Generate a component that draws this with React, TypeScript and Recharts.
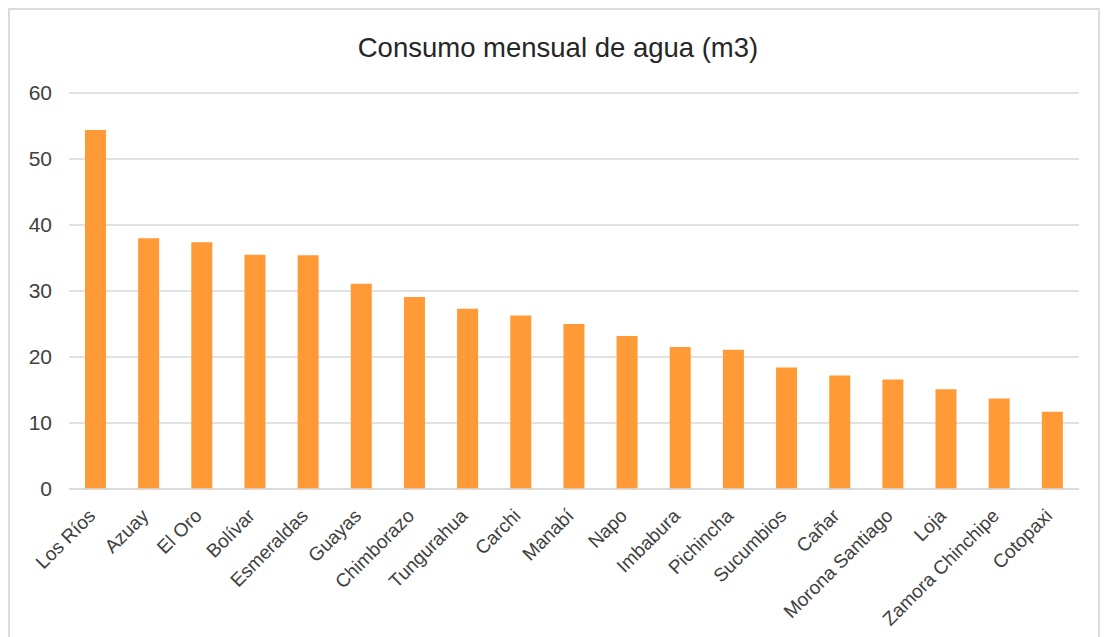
import { BarChart, Bar, XAxis, YAxis, CartesianGrid } from "recharts";

const provincias = [
  "Los Ríos",
  "Azuay",
  "El Oro",
  "Bolívar",
  "Esmeraldas",
  "Guayas",
  "Chimborazo",
  "Tungurahua",
  "Carchi",
  "Manabí",
  "Napo",
  "Imbabura",
  "Pichincha",
  "Sucumbios",
  "Cañar",
  "Morona Santiago",
  "Loja",
  "Zamora Chinchipe",
  "Cotopaxi",
];

const consumo = [
  54.4, 38.0, 37.4, 35.5, 35.4, 31.1, 29.1, 27.3, 26.3, 25.0, 23.2, 21.5, 21.1,
  18.4, 17.2, 16.6, 15.1, 13.7, 11.7,
];

const yTicks = [0, 10, 20, 30, 40, 50, 60];

const data = provincias.map((provincia, i) => ({
  provincia,
  consumo: consumo[i],
}));

const font = "'Liberation Sans', Arial, sans-serif";

function XTick(props: any) {
  const { x, y, payload } = props;
  const ax = x + 1;
  const ay = y + 28;
  return (
    <text
      x={ax}
      y={ay}
      transform={`rotate(-45, ${ax}, ${ay})`}
      textAnchor="end"
      fill="#404040"
      fontSize={19}
      fontFamily={font}
    >
      {payload.value}
    </text>
  );
}

export default function App() {
  return (
    <div
      style={{
        position: "relative",
        width: 1088,
        height: 640,
        border: "2px solid #dcdcdc",
        fontFamily: font,
      }}
    >
      <div
        style={{
          position: "absolute",
          top: 24,
          left: 248,
          width: 600,
          textAlign: "center",
          fontSize: 27.5,
          lineHeight: "27px",
          color: "#262626",
        }}
      >
        Consumo mensual de agua (m3)
      </div>
      <BarChart
        width={1088}
        height={640}
        data={data}
        margin={{ top: 83, right: 19, left: 0, bottom: 0 }}
      >
        <CartesianGrid vertical={false} stroke="#d9d9d9" strokeWidth={1.5} />
        <XAxis
          dataKey="provincia"
          interval={0}
          height={161}
          tickLine={false}
          tickSize={0}
          tickMargin={0}
          axisLine={{ stroke: "#d9d9d9", strokeWidth: 1.5 }}
          tick={<XTick />}
        />
        <YAxis
          domain={[0, 60]}
          ticks={yTicks}
          width={59}
          axisLine={false}
          tickLine={false}
          tickSize={0}
          tickMargin={17}
          tick={{ fill: "#404040", fontSize: 21, fontFamily: font }}
        />
        <Bar
          dataKey="consumo"
          fill="#FF9A36"
          barSize={21}
          isAnimationActive={false}
        />
      </BarChart>
    </div>
  );
}
